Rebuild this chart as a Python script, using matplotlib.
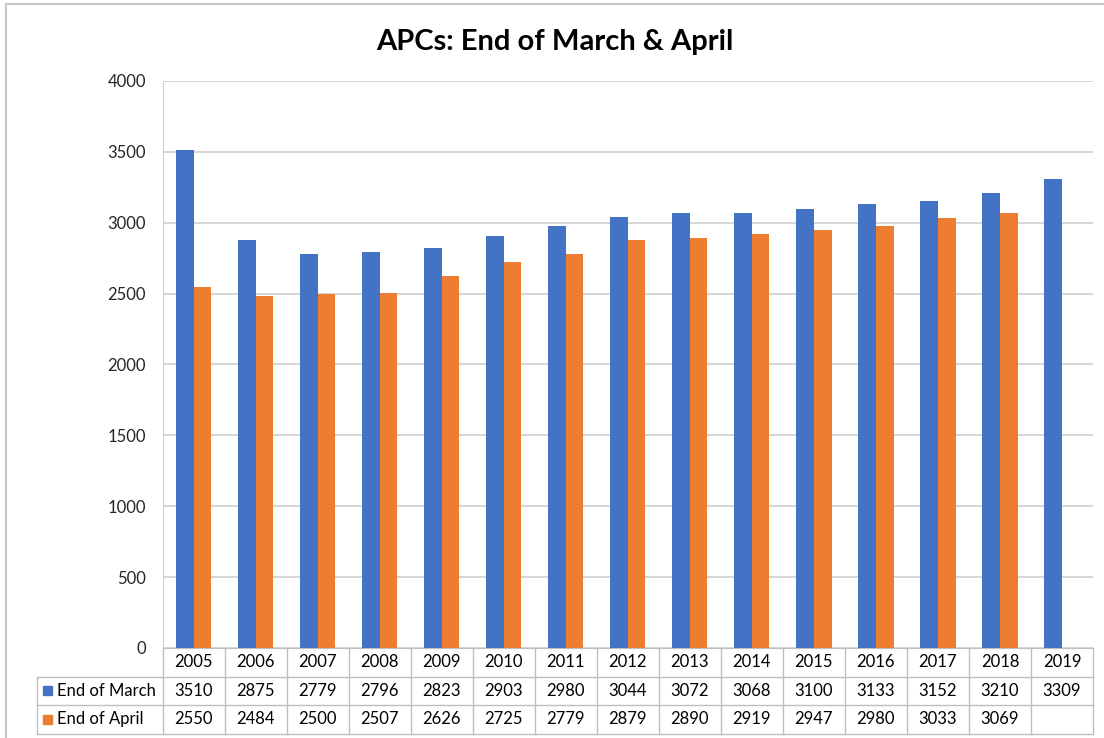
import matplotlib.pyplot as plt
from matplotlib.lines import Line2D
from matplotlib.patches import Rectangle
import numpy as np

plt.rcParams['font.family'] = ['Lato', 'DejaVu Sans']

jahre = ["2005", "2006", "2007", "2008", "2009", "2010", "2011", "2012",
         "2013", "2014", "2015", "2016", "2017", "2018", "2019"]
maerz = [3510, 2875, 2779, 2796, 2823, 2903, 2980, 3044, 3072, 3068, 3100, 3133, 3152, 3210, 3309]
april = [2550, 2484, 2500, 2507, 2626, 2725, 2779, 2879, 2890, 2919, 2947, 2980, 3033, 3069, None]

blau = "#4472C4"
orange = "#ED7D31"
grau = "#D0D0D0"
tabgrau = "#BFBFBF"

fig = plt.figure(figsize=(11.04, 7.38), dpi=100)
ax = fig.add_axes([162.5 / 1104, 1 - 648 / 738, 930.5 / 1104, 567 / 738])

x = np.arange(len(jahre))
b = 0.285
ax.bar(x - b / 2, maerz, width=b, color=blau, zorder=3)
ax.bar(x[:-1] + b / 2, [v for v in april if v is not None], width=b, color=orange, zorder=3)

ax.set_xlim(-0.5, len(jahre) - 0.5)
ax.set_ylim(0, 4000)
ax.set_yticks(range(0, 4001, 500))
ax.set_xticks([])
ax.yaxis.grid(True, color=grau, linewidth=1.2, zorder=0)
ax.tick_params(axis='y', length=0, pad=12, labelsize=12, labelcolor="#262626")
for s in ["top", "right"]:
    ax.spines[s].set_visible(False)
ax.spines["left"].set_color(grau)
ax.spines["bottom"].set_color(tabgrau)

fig.text(0.503, 1 - 42 / 738, "APCs: End of March & April", fontsize=21, fontweight="bold",
         ha="center", va="center", color="#000000")

# Datentabelle unter dem Diagramm
tr = ax.get_xaxis_transform()
r = 28.5 / 567
links = -0.5 - 125.5 / 62.03
rechts = len(jahre) - 0.5

for k in range(1, 4):
    ax.add_line(Line2D([links, rechts], [-k * r, -k * r], transform=tr, color=tabgrau,
                       lw=1, clip_on=False))
for i in range(len(jahre) + 1):
    ax.add_line(Line2D([i - 0.5, i - 0.5], [0, -3 * r], transform=tr, color=tabgrau,
                       lw=1, clip_on=False))
ax.add_line(Line2D([links, links], [-r, -3 * r], transform=tr, color=tabgrau,
                   lw=1, clip_on=False))

for i, j in enumerate(jahre):
    ax.text(i, -0.5 * r, j, transform=tr, ha="center", va="center", fontsize=12,
            color="#000000", clip_on=False)
    ax.text(i, -1.5 * r, str(maerz[i]), transform=tr, ha="center", va="center",
            fontsize=12, color="#000000", clip_on=False)
    if april[i] is not None:
        ax.text(i, -2.5 * r, str(april[i]), transform=tr, ha="center", va="center",
                fontsize=12, color="#000000", clip_on=False)

sq_w = 9 / 62.03
sq_h = 9 / 567
for k, (name, farbe) in enumerate([("End of March", blau), ("End of April", orange)]):
    yc = -(k + 1.5) * r
    ax.add_patch(Rectangle((links + 6 / 62.03, yc - sq_h / 2), sq_w, sq_h, transform=tr,
                           color=farbe, clip_on=False))
    ax.text(links + 20 / 62.03, yc, name, transform=tr, ha="left", va="center",
            fontsize=12, color="#000000", clip_on=False)

# Rahmen des Diagrammbereichs
fig.add_artist(Line2D([6 / 1104, 6 / 1104], [0, 1 - 4 / 738], color="#C8C8C8", lw=1.5))
fig.add_artist(Line2D([6 / 1104, 1], [1 - 4 / 738, 1 - 4 / 738], color="#C8C8C8", lw=1.5))

fig.savefig("out.png", dpi=100)
